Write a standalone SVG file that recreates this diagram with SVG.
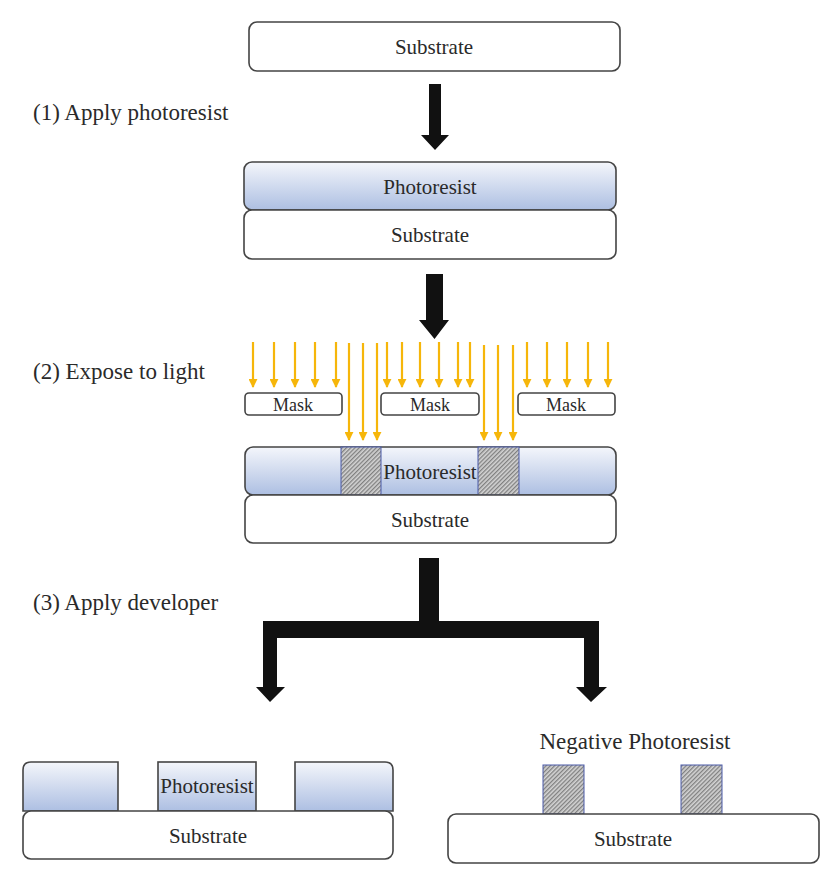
<svg xmlns="http://www.w3.org/2000/svg" width="839" height="890" viewBox="0 0 839 890">
<defs>
<linearGradient id="pr" x1="0" y1="0" x2="0" y2="1">
<stop offset="0" stop-color="#f4f6fb"/>
<stop offset="1" stop-color="#adbfe2"/>
</linearGradient>
<pattern id="hatch" width="3" height="3" patternUnits="userSpaceOnUse" patternTransform="rotate(45)">
<rect width="3" height="3" fill="#d4d4d4"/>
<rect width="1.3" height="3" fill="#808080"/>
</pattern>
<marker id="ya" viewBox="0 0 10 10" refX="9" refY="5" markerWidth="9" markerHeight="9" markerUnits="userSpaceOnUse" orient="auto">
<path d="M0,0 L10,5 L0,10 z" fill="#f6b60a"/>
</marker>
</defs>
<style>
.box{stroke:#444;stroke-width:1.6;}
.sub{fill:#fff;}
.pr{fill:url(#pr);}
.hx{fill:url(#hatch);stroke:#4a5aa8;stroke-width:1;}
.t{font-family:"Liberation Serif","Times New Roman",serif;fill:#2a2a2a;text-anchor:middle;}
.lab{font-family:"Liberation Serif","Times New Roman",serif;fill:#2a2a2a;font-size:23px;}
.ray{stroke:#f6b60a;stroke-width:2.2;fill:none;marker-end:url(#ya);}
.blk{fill:#111;}
</style>

<g id="substrate0">
<rect class="box sub" x="249" y="22" width="371" height="49" rx="8"/>
<text class="t" x="434" y="54" font-size="21">Substrate</text>
</g>

<g id="step1-label"><text class="lab" x="33" y="120">(1) Apply photoresist</text></g>
<g id="step2-label"><text class="lab" x="33" y="379">(2) Expose to light</text></g>
<g id="step3-label"><text class="lab" x="33" y="610">(3) Apply developer</text></g>

<g id="stack1">
<rect class="box pr" x="244" y="162" width="372" height="48" rx="8"/>
<text class="t" x="430" y="194" font-size="21">Photoresist</text>
<rect class="box sub" x="244" y="210" width="372" height="49" rx="8"/>
<text class="t" x="430" y="242" font-size="21">Substrate</text>
</g>

<g id="masks">
<rect class="box sub" x="245" y="393" width="97" height="22" rx="4"/>
<text class="t" x="293" y="411" font-size="18">Mask</text>
<rect class="box sub" x="381" y="393" width="98" height="22" rx="4"/>
<text class="t" x="430" y="411" font-size="18">Mask</text>
<rect class="box sub" x="518" y="393" width="97" height="22" rx="4"/>
<text class="t" x="566" y="411" font-size="18">Mask</text>
</g>

<g id="stack2">
<rect class="box pr" x="245" y="447" width="371" height="48" rx="8"/>
<rect class="hx" x="341" y="447" width="40" height="48"/>
<rect class="hx" x="478" y="447" width="41" height="48"/>
<text class="t" x="430" y="479" font-size="21">Photoresist</text>
<rect class="box sub" x="245" y="495" width="371" height="48" rx="8"/>
<text class="t" x="430" y="527" font-size="21">Substrate</text>
</g>

<g id="positive-result">
<path class="box pr" d="M31,762 H118 V811 H23 V770 Q23,762 31,762 Z"/>
<rect class="box pr" x="158" y="762" width="98" height="49"/>
<text class="t" x="207" y="793" font-size="21">Photoresist</text>
<path class="box pr" d="M295,762 H385 Q393,762 393,770 V811 H295 Z"/>
<rect class="box sub" x="23" y="811" width="370" height="48" rx="8"/>
<text class="t" x="208" y="843" font-size="21">Substrate</text>
</g>

<g id="negative-result">
<text class="t" x="635" y="749" font-size="23">Negative Photoresist</text>
<rect class="hx" x="543" y="765" width="41" height="49"/>
<rect class="hx" x="681" y="765" width="41" height="49"/>
<rect class="box sub" x="448" y="814" width="371" height="49" rx="8"/>
<text class="t" x="633" y="846" font-size="21">Substrate</text>
</g>

<g id="light">
<line class="ray" x1="253" y1="342" x2="253" y2="387"/>
<line class="ray" x1="274" y1="342" x2="274" y2="387"/>
<line class="ray" x1="295" y1="342" x2="295" y2="387"/>
<line class="ray" x1="315" y1="342" x2="315" y2="387"/>
<line class="ray" x1="336" y1="342" x2="336" y2="387"/>
<line class="ray" x1="349" y1="343" x2="349" y2="440"/>
<line class="ray" x1="363" y1="343" x2="363" y2="440"/>
<line class="ray" x1="377" y1="343" x2="377" y2="440"/>
<line class="ray" x1="387" y1="342" x2="387" y2="387"/>
<line class="ray" x1="402" y1="342" x2="402" y2="387"/>
<line class="ray" x1="420" y1="342" x2="420" y2="387"/>
<line class="ray" x1="439" y1="342" x2="439" y2="387"/>
<line class="ray" x1="458" y1="342" x2="458" y2="387"/>
<line class="ray" x1="470" y1="342" x2="470" y2="387"/>
<line class="ray" x1="484" y1="345" x2="484" y2="440"/>
<line class="ray" x1="498" y1="345" x2="498" y2="440"/>
<line class="ray" x1="513" y1="345" x2="513" y2="440"/>
<line class="ray" x1="527" y1="342" x2="527" y2="387"/>
<line class="ray" x1="547" y1="342" x2="547" y2="387"/>
<line class="ray" x1="567" y1="342" x2="567" y2="387"/>
<line class="ray" x1="588" y1="342" x2="588" y2="387"/>
<line class="ray" x1="608" y1="342" x2="608" y2="387"/>
</g>

<g id="connectors">
<polygon class="blk" points="429,84 441,84 441,135 449,135 435,150 421,135 429,135"/>
<polygon class="blk" points="426,274 443,274 443,320 449,320 434.5,339 419,320 426,320"/>
<polygon class="blk" points="419,558 439,558 439,621 599,621 599,687 607,687 591,702 576,687 584,687 584,638 277,638 277,687 285,687 270,702 256,687 263,687 263,621 419,621"/>
</g>
</svg>
